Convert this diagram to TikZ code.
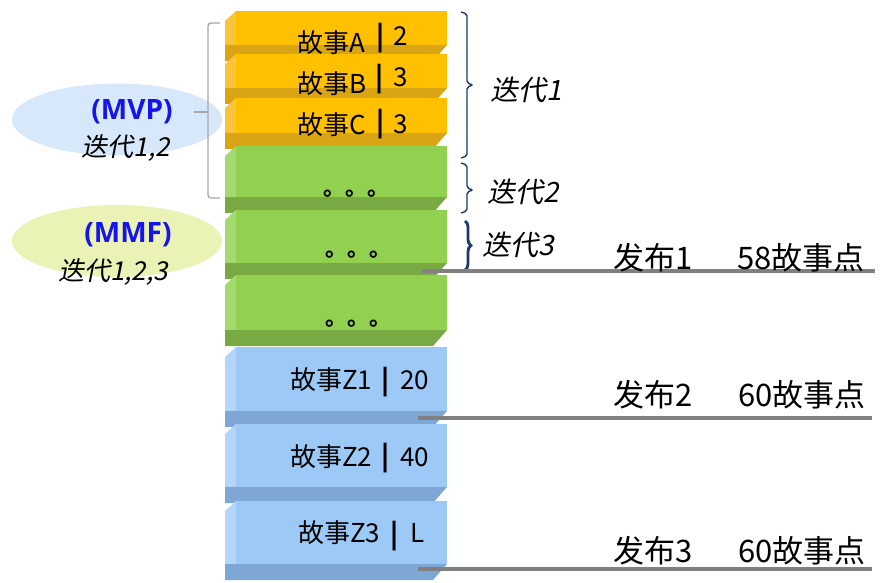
\documentclass[tikz,border=0pt]{standalone}
\usepackage{fontspec}
\setmainfont{Noto Sans CJK SC}
\newfontfamily\itcjk[FakeSlant=0.2]{Noto Sans CJK SC}
\newfontfamily\boldlat{Open Sans}
\usetikzlibrary{decorations.pathreplacing}
\definecolor{orF}{HTML}{FFC000}
\definecolor{orL}{HTML}{F8C53A}
\definecolor{orD}{HTML}{D9A514}
\definecolor{grF}{HTML}{92D050}
\definecolor{grL}{HTML}{A3D96F}
\definecolor{grD}{HTML}{78A943}
\definecolor{blF}{HTML}{9DC9F6}
\definecolor{blL}{HTML}{B3D6F8}
\definecolor{blD}{HTML}{7FA7D3}
\definecolor{navy}{HTML}{1F3864}
\definecolor{mvpbg}{HTML}{D6E8FA}
\definecolor{mmfbg}{HTML}{EAF2B6}
\definecolor{mblue}{HTML}{1414EB}
\definecolor{relgray}{HTML}{808080}
\definecolor{brgray}{HTML}{A6A6A6}
\newcommand\storyblk[3]{% #1 ytop, #2 ybot, #3 colour prefix
  \fill[#3L] (225,#1+10) -- (236,#1) -- (236,#2) -- (225,#2) -- cycle;
  \fill[#3D] (225,#2) -- (447,#2) -- (433,#2+16) -- (225,#2+16) -- cycle;
  \fill[#3F] (236,#1) rectangle (447,#2);
}
\tikzset{
  btxt/.style={inner sep=0pt, font=\fontsize{26}{30}\selectfont},
  bartxt/.style={inner sep=0pt, font=\bfseries\fontsize{26}{30}\selectfont},
  dotstxt/.style={inner sep=0pt, font=\bfseries\fontsize{22}{26}\selectfont},
  reltxt/.style={inner sep=0pt, anchor=west, font=\fontsize{31}{36}\selectfont},
  ittxt/.style={inner sep=0pt, anchor=west, font=\itcjk\fontsize{28}{32}\selectfont},
  leftit/.style={inner sep=0pt, font=\itcjk\fontsize{26}{30}\selectfont},
  mtxt/.style={inner sep=0pt, text=mblue, font=\boldlat\bfseries\fontsize{28}{32}\selectfont},
  relline/.style={draw=relgray, line width=3.4pt},
  sqbrace/.style={draw=navy, line width=1.4pt, rounded corners=2pt},
  grbrace/.style={draw=brgray, line width=1.3pt, rounded corners=3pt}
}
\begin{document}
\begin{tikzpicture}[x=1pt,y=-1pt]
\useasboundingbox (0,0) rectangle (889,583);
% ellipses
\fill[mvpbg] (117,119.5) ellipse [x radius=105, y radius=36];
\fill[mmfbg] (117,241) ellipse [x radius=105, y radius=36];
\node[mtxt] (mvp) at (132,112) {(MVP)};
\node[leftit] (it12) at (126,148) {迭代1,2};
\node[mtxt] (mmf) at (128,235) {(MMF)};
\node[leftit] (it123) at (113,272) {迭代1,2,3};
% gray bracket
\draw[grbrace] (220,23) -- (208,23) -- (208,198) -- (220,198);
\draw[grbrace] (208,112) -- (194,112);
% blocks
\storyblk{11}{45}{or}
\storyblk{54}{88}{or}
\storyblk{98}{133}{or}
\storyblk{146}{197}{gr}
\storyblk{210}{263}{gr}
\storyblk{275}{330}{gr}
\storyblk{347}{411}{bl}
\storyblk{424}{487}{bl}
\storyblk{501}{564}{bl}
% orange texts
\node[btxt, anchor=west] (tA) at (297,43) {故事A};
\node[bartxt] (barA) at (381,38) {|};
\node[btxt] (nA) at (401,36) {2};
\node[btxt, anchor=west] (tB) at (297,84) {故事B};
\node[bartxt] (barB) at (380,79) {|};
\node[btxt] (nB) at (401,77) {3};
\node[btxt, anchor=west] (tC) at (297,125) {故事C};
\node[bartxt] (barC) at (381,124) {|};
\node[btxt] (nC) at (401,124) {3};
% dots
\node[dotstxt, anchor=base west] (dG1) at (323,196) {。。。};
\node[dotstxt, anchor=base west] (dG2) at (325,256) {。。。};
\node[dotstxt, anchor=base west] (dG3) at (325,325) {。。。};
% blue texts
\node[btxt, anchor=west] (tZ1) at (290,380) {故事Z1};
\node[bartxt] (barZ1) at (386,382) {|};
\node[btxt, anchor=west] (nZ1) at (400,380) {20};
\node[btxt, anchor=west] (tZ2) at (290,457) {故事Z2};
\node[bartxt] (barZ2) at (386,458) {|};
\node[btxt, anchor=west] (nZ2) at (400,457) {40};
\node[btxt, anchor=west] (tZ3) at (298,533) {故事Z3};
\node[bartxt] (barZ3) at (395,536) {|};
\node[btxt, anchor=west] (nZ3) at (410,533) {L};
% iteration braces
\draw[sqbrace] (461,12) -- (467,14) -- (467,83) -- (473,85) -- (467,87) -- (467,156) -- (461,158);
\draw[sqbrace] (461,163) -- (467,165) -- (467,188) -- (473,190) -- (467,192) -- (467,211) -- (461,213);
\draw[navy, line width=2.8pt, decorate, decoration={brace, amplitude=6pt}] (465,221) -- (465,270);
\node[ittxt] (it1) at (490,90) {迭代1};
\node[ittxt] (it2) at (487,192) {迭代2};
\node[ittxt] (it3) at (482,245) {迭代3};
% releases
\coordinate (r1a) at (422,271); \coordinate (r1b) at (875,271);
\coordinate (r2a) at (418,418); \coordinate (r2b) at (872,418);
\coordinate (r3a) at (418,569); \coordinate (r3b) at (872,569);
\draw[relline] (r1a) -- (r1b);
\draw[relline] (r2a) -- (r2b);
\draw[relline] (r3a) -- (r3b);
\node[reltxt] (rel1) at (613,258) {发布1};
\node[reltxt] (pt1) at (737,258) {58故事点};
\node[reltxt] (rel2) at (613,395) {发布2};
\node[reltxt] (pt2) at (738,395) {60故事点};
\node[reltxt] (rel3) at (613,551) {发布3};
\node[reltxt] (pt3) at (738,551) {60故事点};
\end{tikzpicture}
\end{document}
